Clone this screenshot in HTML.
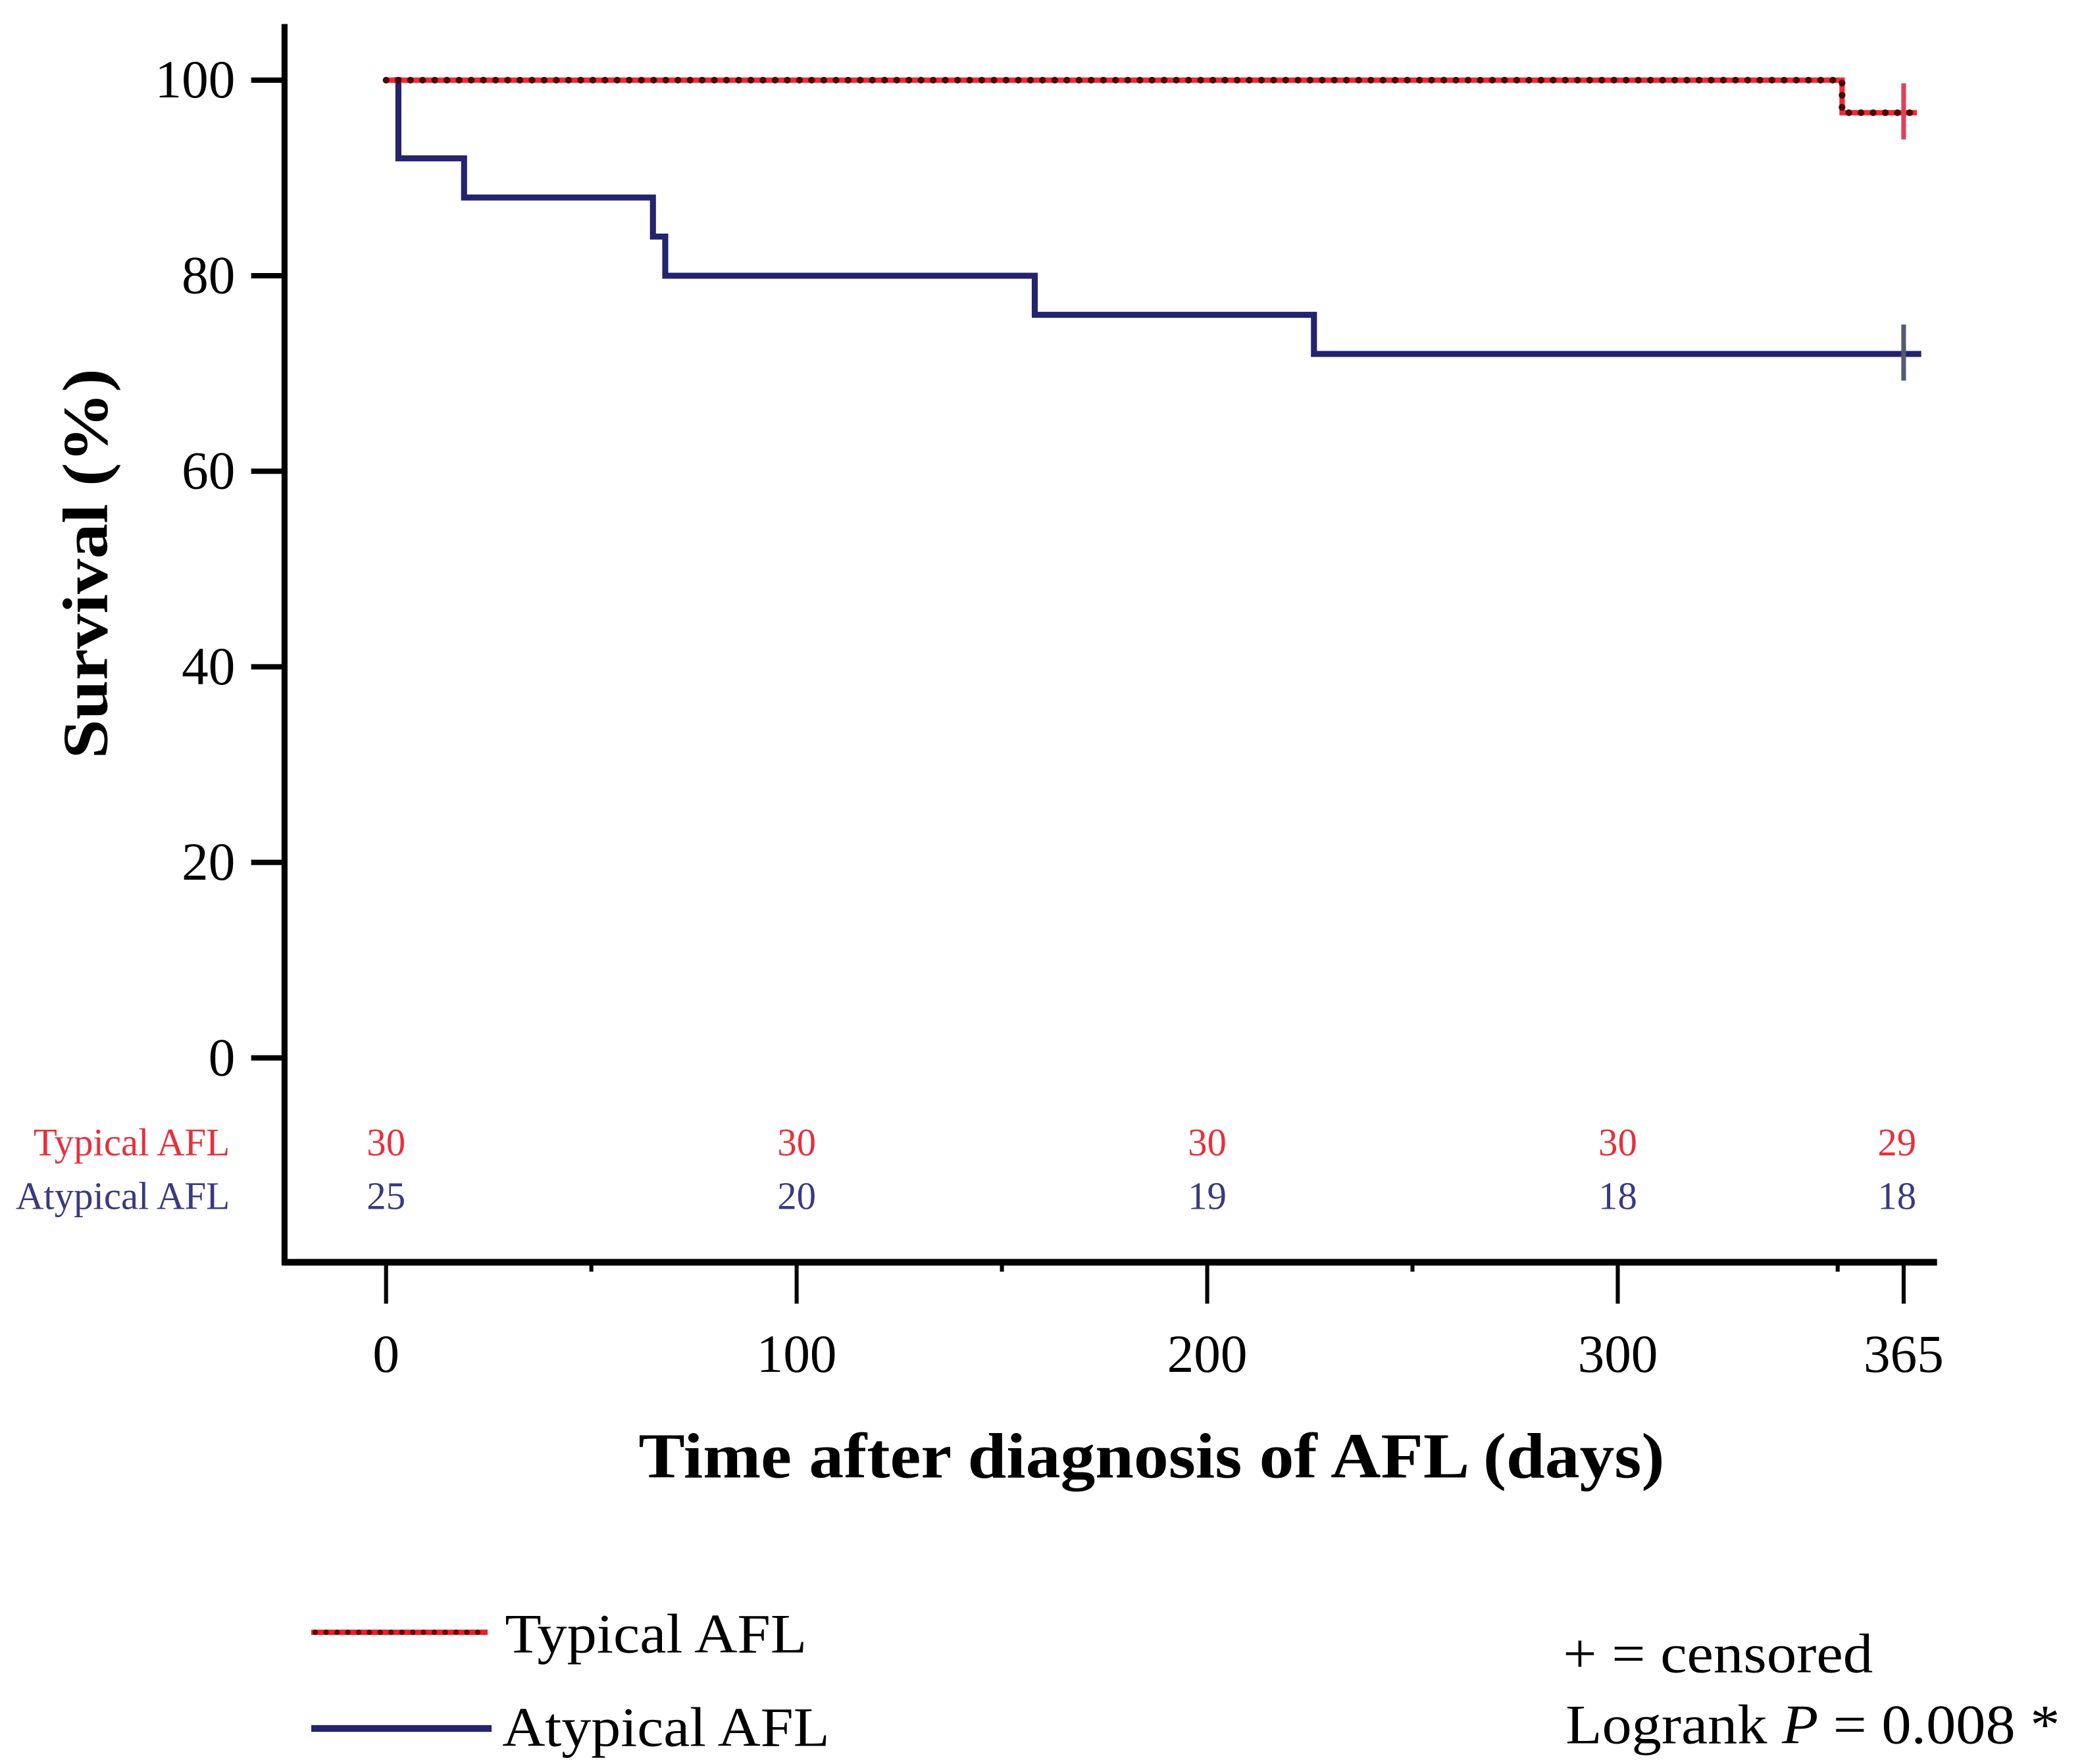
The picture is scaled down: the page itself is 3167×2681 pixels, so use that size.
<!DOCTYPE html>
<html><head><meta charset="utf-8"><style>
html,body{margin:0;padding:0;background:#fff;}
svg{display:block;}
text{font-family:"Liberation Serif",serif;}
</style></head><body>
<svg id="chart" xmlns="http://www.w3.org/2000/svg" width="3167" height="2681" viewBox="0 0 1560 1320.6">
<rect x="0" y="0" width="1560" height="1320.6" fill="#fff"/>
<g id="axes"></g>
<g id="series"></g>
<g id="risk"></g>
<text transform="translate(80,422) rotate(-90)" text-anchor="middle" font-size="48" font-weight="bold" textLength="292" lengthAdjust="spacingAndGlyphs">Survival (%)</text>
<text x="862" y="1106" text-anchor="middle" font-size="48" font-weight="bold" textLength="768" lengthAdjust="spacingAndGlyphs">Time after diagnosis of AFL (days)</text>
<g>
  <line x1="233" y1="1222" x2="365" y2="1222" stroke="#e8202a" stroke-width="4"/>
  <line x1="236" y1="1222" x2="365" y2="1222" stroke="#5a0a0a" stroke-width="4" stroke-dasharray="0.1 8" stroke-linecap="round"/>
  <text x="378" y="1237" font-size="42" textLength="226" lengthAdjust="spacingAndGlyphs">Typical AFL</text>
  <line x1="233" y1="1294" x2="368" y2="1294" stroke="#23236e" stroke-width="5"/>
  <text x="376" y="1307" font-size="42" textLength="245" lengthAdjust="spacingAndGlyphs">Atypical AFL</text>
  <text x="1170" y="1252" font-size="42" textLength="232" lengthAdjust="spacingAndGlyphs">+ = censored</text>
  <text x="1172" y="1305" font-size="42" textLength="370" lengthAdjust="spacingAndGlyphs">Logrank <tspan font-style="italic">P</tspan> = 0.008 *</text>
</g>
<script>
const yTicks = [0, 20, 40, 60, 80, 100];
const xTicks = [0, 100, 200, 300, 365];
const xMinor = [50, 150, 250, 350];
const typicalTimes = [0, 351, 368];
const typicalSurv = [100, 96.67, 96.67];
const atypicalTimes = [2, 3, 19, 65, 68, 158, 226, 369];
const atypicalSurv = [100, 92, 88, 84, 80, 76, 72, 72];
const censorTimes = [365];
const riskTimes = [0, 100, 200, 300, 365];
const riskTypical = [30, 30, 30, 30, 29];
const riskAtypical = [25, 20, 19, 18, 18];

const NS = "http://www.w3.org/2000/svg";
function xs(d){ return d <= 300 ? 289 + d * (1211 - 289) / 300 : 1211 + (d - 300) * (1425 - 1211) / 65; }
function ys(v){ return 792 - v * (792 - 60) / 100; }
function mk(tag, attrs, parent){ const e = document.createElementNS(NS, tag); for (const k in attrs) e.setAttribute(k, attrs[k]); parent.appendChild(e); return e; }

const axes = document.getElementById('axes');
let l = mk('line', {x1:213, y1:18, x2:213, y2:947, stroke:'#000', 'stroke-width':4.5}, axes);


l = mk('line', {x1:211, y1:945, x2:1450, y2:945, stroke:'#000', 'stroke-width':5}, axes);


yTicks.forEach(v => {
  const t = mk('line', {x1:188, y1:ys(v), x2:213, y2:ys(v), stroke:'#000', 'stroke-width':4}, axes);
  
  
  const tx = mk('text', {x:176, y:ys(v) + 13, 'text-anchor':'end', 'font-size':40}, axes);
  tx.textContent = v;
  
  
});
xTicks.forEach(d => {
  const t = mk('line', {x1:xs(d), y1:945, x2:xs(d), y2:976, stroke:'#000', 'stroke-width':3}, axes);
  
  
  const tx = mk('text', {x:xs(d), y:1027, 'text-anchor':'middle', 'font-size':40}, axes);
  tx.textContent = d;
  
  
});
xMinor.forEach(d => {
  const t = mk('line', {x1:xs(d), y1:945, x2:xs(d), y2:952, stroke:'#000', 'stroke-width':3}, axes);
  
  
});

function stepPath(ts, ss){
  let p = 'M' + xs(ts[0]) + ' ' + ys(ss[0]);
  for (let i = 1; i < ts.length; i++){
    p += ' H' + xs(ts[i]) + ' V' + ys(ss[i]);
  }
  return p;
}
const series = document.getElementById('series');
let p = mk('path', {d:stepPath(atypicalTimes, atypicalSurv), fill:'none', stroke:'#23236e', 'stroke-width':4.5}, series);


censorTimes.forEach(d => {
  const c = mk('line', {x1:xs(d), y1:ys(atypicalSurv[atypicalSurv.length-1]) - 22, x2:xs(d), y2:ys(atypicalSurv[atypicalSurv.length-1]) + 20, stroke:'#555a70', 'stroke-width':3.5}, series);
  
  
});
p = mk('path', {d:stepPath(typicalTimes, typicalSurv), fill:'none', stroke:'#ee2a33', 'stroke-width':4}, series);


p = mk('path', {d:stepPath(typicalTimes, typicalSurv), fill:'none', stroke:'#4a0808', 'stroke-width':5, 'stroke-dasharray':'0.1 9', 'stroke-linecap':'round'}, series);


censorTimes.forEach(d => {
  const c = mk('line', {x1:xs(d), y1:ys(typicalSurv[typicalSurv.length-1]) - 22, x2:xs(d), y2:ys(typicalSurv[typicalSurv.length-1]) + 20, stroke:'#e0405a', 'stroke-width':3.5}, series);
  
  
});

const risk = document.getElementById('risk');
let lab = mk('text', {x:172, y:865, 'text-anchor':'end', 'font-size':29, fill:'#e8303c'}, risk);
lab.textContent = 'Typical AFL';


lab = mk('text', {x:172, y:905, 'text-anchor':'end', 'font-size':29, fill:'#3a3a80'}, risk);
lab.textContent = 'Atypical AFL';


riskTimes.forEach((d, i) => {
  const x = d === 365 ? xs(d) - 5 : xs(d);
  const a = mk('text', {x:x, y:865, 'text-anchor':'middle', 'font-size':29, fill:'#e8303c'}, risk);
  a.textContent = riskTypical[i];
  
  
  const b = mk('text', {x:x, y:905, 'text-anchor':'middle', 'font-size':29, fill:'#3a3a80'}, risk);
  b.textContent = riskAtypical[i];
  
  
});
</script>
</svg>
</body></html>
